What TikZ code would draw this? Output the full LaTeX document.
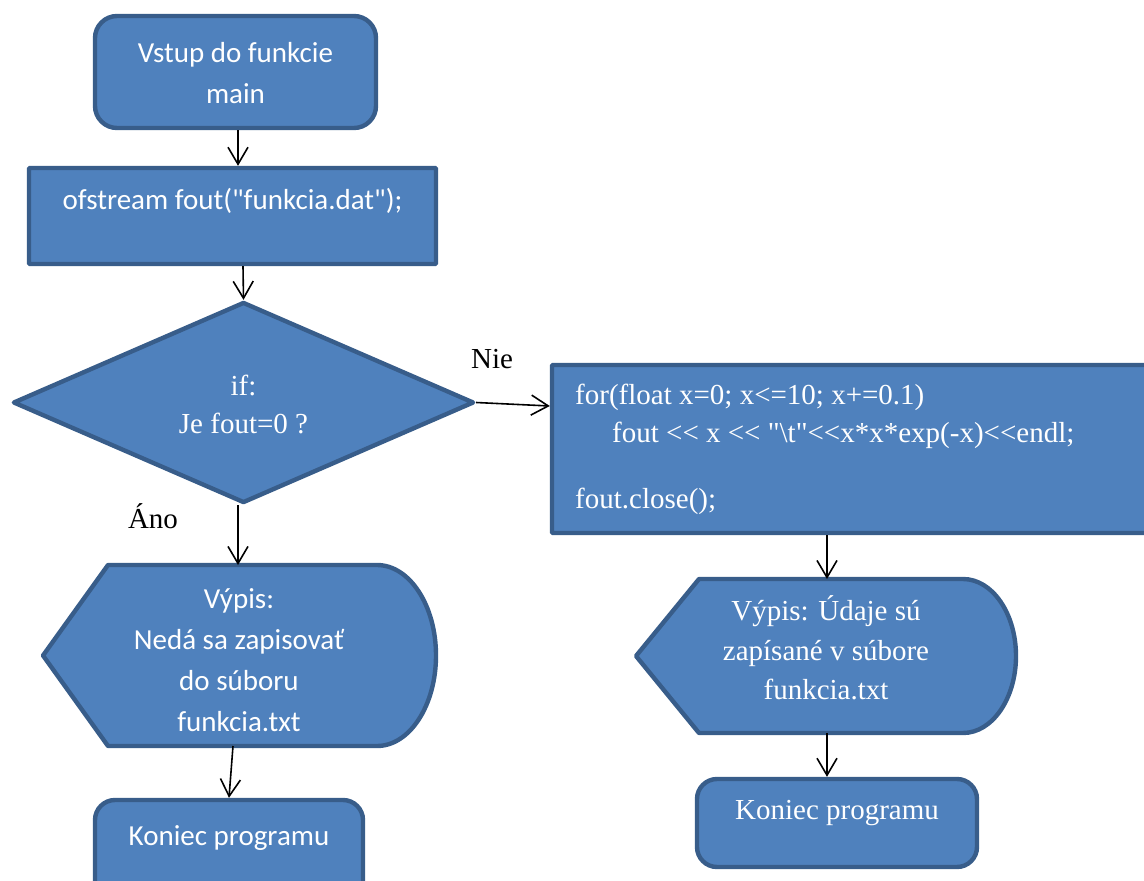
\documentclass[tikz,border=0pt]{standalone}
\usepackage{fontspec}
\setmainfont{Liberation Serif}[Ligatures=TeXOff]
\newfontfamily\calfont{Carlito}
\usetikzlibrary{arrows.meta,shapes.geometric}
\definecolor{boxfill}{HTML}{4F81BD}
\definecolor{boxline}{HTML}{385D8A}
\tikzset{
  shp/.style={draw=boxline, fill=boxfill, line width=4.4pt, inner sep=0pt},
  rbox/.style={shp, rectangle, rounded corners=22pt},
  sbox/.style={shp, rectangle, rounded corners=1pt},
  dshape/.style={draw=boxline, fill=boxfill, line width=4.4pt, line join=round},
  sanstxt/.style={text=white, inner sep=0pt, align=center, font=\calfont\fontsize{29}{41}\selectfont},
  seriftxt/.style={text=white, inner sep=0pt, align=center, font=\fontsize{29}{39.5}\selectfont},
  lbl/.style={text=black, inner sep=0pt, font=\fontsize{29}{39}\selectfont},
  arr/.style={draw=black, line width=1.6pt, -{Straight Barb[length=17pt,width=20pt,line width=1.6pt]}}
}
\begin{document}
\begin{tikzpicture}[x=1pt,y=-1pt]
\useasboundingbox (0,0) rectangle (1144,881);
\clip (0,0) rectangle (1144,881);

% start
\node[rbox, minimum width=281pt, minimum height=112pt] (s1) at (235.5,72) {};
\node[sanstxt] (t1) at (235.5,73) {Vstup do funkcie\\main};

% ofstream
\node[sbox, minimum width=407pt, minimum height=96pt] (r1) at (232.5,216) {};
\node[sanstxt] (t2) at (232.5,201) {ofstream fout("funkcia.dat");};

% decision
\node[shp, diamond, minimum width=461pt, minimum height=201pt, line join=round] (d1) at (243.5,402.5) {};
\node[text=white, inner sep=0pt, align=center, font=\fontsize{29}{38}\selectfont] (t3) at (243.5,404) {if:\\Je fout=0 ?};

% loop box
\node[sbox, minimum width=608pt, minimum height=168pt] (r2) at (856,449) {};
\node[text=white, inner sep=0pt, anchor=base west, font=\fontsize{29}{38}\selectfont] (t4a) at (575,404) {for(float x=0; x<=10; x+=0.1)};
\node[text=white, inner sep=0pt, anchor=base west, font=\fontsize{29}{38}\selectfont] (t4b) at (612,442) {fout << x << "\textbackslash t"<<x*x*exp(-x)<<endl;};
\node[text=white, inner sep=0pt, anchor=base west, font=\fontsize{29}{38}\selectfont] (t4c) at (575,508) {fout.close();};

% left display
\draw[dshape] (108,565) -- (377,565) arc[start angle=-90, end angle=90, x radius=59, y radius=90.5] -- (108,746) -- (43,655.5) -- cycle;
\coordinate (dLtop) at (238,565);
\coordinate (dLbot) at (233,746);
\node[sanstxt] (t5) at (239,660) {Výpis:\\Nedá sa zapisovať\\do súboru\\funkcia.txt};

% right display
\draw[dshape] (699,579) -- (963,579) arc[start angle=-90, end angle=90, x radius=53, y radius=77] -- (699,733) -- (636,656) -- cycle;
\coordinate (dRtop) at (827,579);
\coordinate (dRbot) at (827,733);
\node[seriftxt] (t6) at (826,648) {Výpis: Údaje sú\\zapísané v súbore\\funkcia.txt};

% end boxes
\node[rbox, rounded corners=20pt, minimum width=268pt, minimum height=110pt] (e1) at (229,855) {};
\node[sanstxt] (t7) at (229,838) {Koniec programu};
\node[rbox, rounded corners=20pt, minimum width=280pt, minimum height=88pt] (e2) at (837,823) {};
\node[seriftxt] (t8) at (837,813) {Koniec programu};

% labels
\node[lbl, anchor=base] (nie) at (492,368) {Nie};
\node[lbl, anchor=base] (ano) at (153,528) {Áno};

% connectors
\draw[arr] ([xshift=2.5pt]s1.south) -- ([xshift=2.5pt]s1.south |- r1.north);
\draw[arr] ([xshift=10.5pt]r1.south) -- (d1.north);
\draw[arr] ([xshift=-5.5pt]d1.south) -- (dLtop);
\draw[arr] (dLbot) -- (e1.north);
\draw[arr] (d1.east) -- (r2.west |- 0,406);
\draw[arr] (r2.south -| dRtop) -- (dRtop);
\draw[arr] (dRbot) -- (dRbot |- e2.north);
\end{tikzpicture}
\end{document}
